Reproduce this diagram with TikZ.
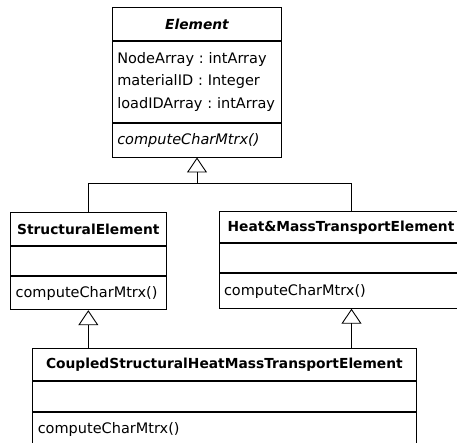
\documentclass[tikz,border=0pt]{standalone}
\usepackage{fontspec}
\setmainfont{DejaVu Sans}
\usetikzlibrary{positioning,arrows.meta}

\newcommand{\umlfont}{\fontsize{14.5}{22.5}\selectfont\frenchspacing\hyphenpenalty=10000\relax}

\begin{document}
\begin{tikzpicture}[x=1pt,y=1pt,
    box/.style={draw, line width=0.9pt, inner xsep=5pt, inner ysep=0pt, font=\umlfont},
    head/.style={box, text width=#1, align=center,
      font=\fontsize{13.8}{20}\selectfont\bfseries},
    body/.style={box, text width=#1, align=left},
    genl/.style={line width=0.9pt, -{Triangle[open, length=15pt, width=20pt]}}]
    \useasboundingbox (0,0) rectangle (457,-443);
    \clip (0,0) rectangle (457,-443);

    % abstract base class
    \node[head=159.5pt, anchor=north, minimum height=33pt] (elemTitle) at (197,-7.3) {\itshape Element};
    \node[body=159.5pt, below=0pt of elemTitle, minimum height=80.5pt] (elemAttr)
        {NodeArray : intArray\\ materialID : Integer\\ loadIDArray : intArray};
    \node[body=159.5pt, below=0pt of elemAttr, minimum height=34pt] (elemOps) {\itshape computeCharMtrx()};

    % derived classes
    \node[head=145.3pt, anchor=north, minimum height=33pt] (structTitle) at (88.3,-212) {StructuralElement};
    \node[body=145.3pt, below=0pt of structTitle, minimum height=29pt] (structAttr) {};
    \node[body=145.3pt, below=0pt of structAttr, minimum height=33.5pt] (structOps) {computeCharMtrx()};

    \node[head=234pt, anchor=north, minimum height=31.5pt] (heatTitle) at (341,-211) {Heat\&MassTransportElement};
    \node[body=234pt, below=0pt of heatTitle, minimum height=29pt] (heatAttr) {};
    \node[body=234pt, below=0pt of heatAttr, minimum height=34.5pt] (heatOps) {computeCharMtrx()};

    % coupled class
    \node[head=373.3pt, anchor=north, minimum height=32pt] (coupledTitle) at (224.4,-348.3) {CoupledStructuralHeatMassTransportElement};
    \node[body=373.3pt, below=0pt of coupledTitle, minimum height=29.5pt] (coupledAttr) {};
    \node[body=373.3pt, below=0pt of coupledAttr, minimum height=34pt] (coupledOps) {computeCharMtrx()};

    % generalisations
    \coordinate (bus) at (197,-183);
    \coordinate (heatLink) at (351.5,-183);
    \draw[genl] (bus) -- (elemOps.south);
    \draw[line width=0.9pt] (structTitle.north) |- (heatLink) -- (heatLink |- heatTitle.north);
    \draw[genl] (coupledTitle.north -| structOps.south) -- (structOps.south);
    \draw[genl] (coupledTitle.north -| heatLink) -- (heatOps.south -| heatLink);
\end{tikzpicture}
\end{document}
